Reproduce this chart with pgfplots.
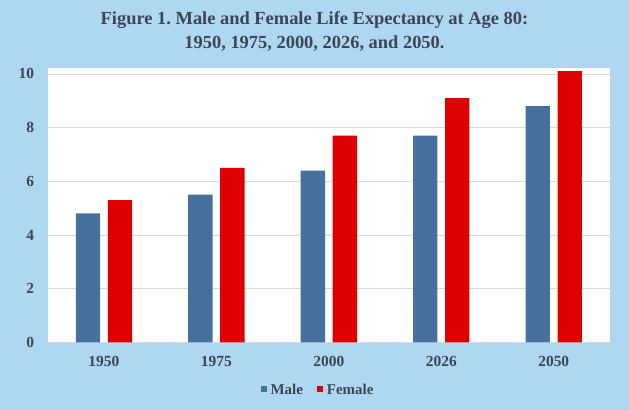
\documentclass[border=0pt]{standalone}
\usepackage{fontspec}
\setmainfont{Liberation Serif}
\usepackage{pgfplots}
\pgfplotsset{compat=1.18}
\frenchspacing

\definecolor{bgblue}{RGB}{174,215,242}
\definecolor{maleblue}{RGB}{68,114,157}
\definecolor{femred}{RGB}{222,0,0}
\definecolor{txtgray}{RGB}{60,70,84}
\definecolor{gridgray}{RGB}{217,217,217}

\begin{document}
\begin{tikzpicture}
  % background of the whole chart
  \useasboundingbox (0,0) rectangle (629bp,410bp);
  \fill[bgblue] (0,0) rectangle (629bp,410bp);
  \node[align=center, text=txtgray, font=\fontsize{18.5}{24.3}\selectfont\bfseries,
        anchor=base] at (314.5bp,361.7bp)
    {Figure 1. Male and Female Life Expectancy at Age 80:\\1950, 1975, 2000, 2026, and 2050.};

  \begin{axis}[
      at={(47.7bp,67.7bp)}, anchor=south west,
      scale only axis,
      width=562.3bp, height=274bp,
      axis background/.style={fill=white},
      axis line style={draw=none},
      major tick length=0pt,
      xmin=-0.5, xmax=4.5,
      ymin=0, ymax=10.21,
      xtick={0,1,2,3,4},
      xticklabels={1950,1975,2000,2026,2050},
      ytick={0,2,4,6,8,10},
      ymajorgrids,
      major grid style={gridgray, line width=0.8pt},
      /pgf/number format/assume math mode=true,
      tick label style={font=\fontsize{15.5}{18}\selectfont\bfseries, text=txtgray, inner sep=0pt},
      yticklabel style={anchor=east, xshift=-13.5bp},
      xticklabel style={anchor=north, yshift=-13.7bp},
      legend columns=2,
      legend style={at={(0.4807,-0.174)}, anchor=center, draw=none, fill=none,
                    font=\fontsize{15}{18}\selectfont\bfseries, text=txtgray,
                    /tikz/every even column/.append style={column sep=12bp}},
      legend image code/.code={\fill[#1] (0bp,-2bp) rectangle (6bp,4bp);
                               \path (0bp,0bp) -- (8bp,0bp);},
  ]
  \addplot[ybar, bar width=24.3bp, bar shift=-16bp, fill=maleblue, draw=none]
    coordinates {(0,4.8) (1,5.5) (2,6.4) (3,7.7) (4,8.8)};
  \addplot[ybar, bar width=24.3bp, bar shift=16bp, fill=femred, draw=none]
    coordinates {(0,5.3) (1,6.5) (2,7.7) (3,9.1) (4,10.1)};
  \legend{Male, Female}
  \end{axis}
\end{tikzpicture}
\end{document}
